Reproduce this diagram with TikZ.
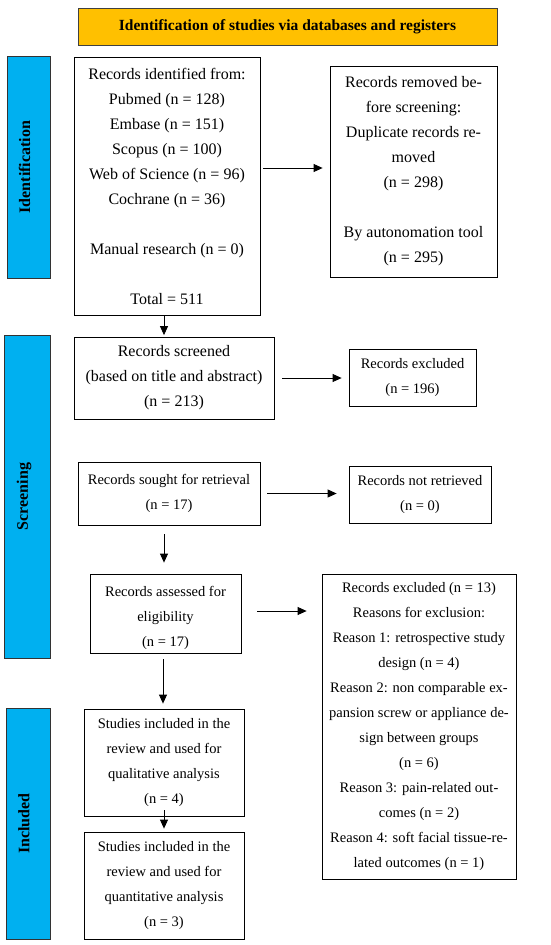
\documentclass[tikz,border=0pt]{standalone}
\usepackage{fontspec}
\setmainfont{Liberation Serif}
\usetikzlibrary{arrows.meta}
\definecolor{headorange}{HTML}{FFC000}
\definecolor{barblue}{HTML}{00B0F0}
\tikzset{
  box/.style={draw, line width=0.8pt, inner sep=0pt, align=center, font=\fontsize{14.5}{25}\selectfont},
  bigbox/.style={box, font=\fontsize{16}{25}\selectfont},
  bar/.style={draw=black!80, fill=barblue, line width=0.9pt, inner sep=0pt},
  sidelab/.style={rotate=90, inner sep=0pt, font=\fontsize{16}{18}\selectfont\bfseries},
  plain/.style={inner sep=0pt, align=center, font=\fontsize{14.5}{25}\selectfont},
  arr/.style={-{Triangle[length=9pt,width=8pt]}, line width=0.8pt}
}
\begin{document}
\begin{tikzpicture}[x=1pt,y=-1pt]
\useasboundingbox (0,0) rectangle (550,945);
\fill[white] (0,0) rectangle (550,945);

% header
\node[draw=black!75, fill=headorange, line width=0.9pt, inner sep=0pt,
      minimum width=419, minimum height=37, font=\fontsize{15.5}{18}\selectfont\bfseries]
  (head) at (287.5,26.5) {Identification of studies via databases and registers};

% side bars
\node[bar, minimum width=43, minimum height=222] (idbar) at (28.5,167) {};
\node[sidelab] (idlab) at ([xshift=-4pt]idbar.center) {Identification};
\node[bar, minimum width=46, minimum height=323] (scbar) at (27,496.5) {};
\node[sidelab] (sclab) at ([xshift=-3pt]scbar.center) {Screening};
\node[bar, minimum width=44, minimum height=231] (inbar) at (28,823.5) {};
\node[sidelab] (inlab) at ([xshift=-4pt]inbar.center) {Included};

% identification
\node[bigbox, minimum width=186, minimum height=258] (idbox) at (167,186)
  {Records identified from:\\Pubmed (n = 128)\\Embase (n = 151)\\Scopus (n = 100)\\Web of Science (n = 96)\\Cochrane (n = 36)\\[25pt]Manual research (n = 0)\\[25pt]Total = 511};
\node[bigbox, minimum width=167, minimum height=211] (removed) at (413.5,171.5)
  {Records removed be-\\fore screening:\\Duplicate records re-\\moved\\(n = 298)\\[25pt]By autonomation tool\\(n = 295)};

% screening
\node[bigbox, minimum width=200, minimum height=82] (screened) at (174,378)
  {Records screened\\(based on title and abstract)\\(n = 213)};
\node[box, minimum width=127, minimum height=57] (excl1) at (412.5,377.5)
  {Records excluded\\(n = 196)};
\node[box, minimum width=182, minimum height=63] (sought) at (169,493.5)
  {Records sought for retrieval\\(n = 17)};
\node[box, minimum width=142, minimum height=57] (notret) at (420,494.5)
  {Records not retrieved\\(n = 0)};
\node[box, minimum width=151, minimum height=79] (assessed) at (165.5,613.5) {};
\begin{scope}
  \clip (90,574) rectangle (241,648.5);
  \node[plain] (assessedtxt) at ([yshift=-4.5pt]assessed.center)
    {Records assessed for\\eligibility\\(n = 17)};
\end{scope}
\node[box, minimum width=194, minimum height=305] (excl13) at (419,726.5)
  {Records excluded (n = 13)\\Reasons for exclusion:\\Reason 1: retrospective study\\design (n = 4)\\Reason 2: non comparable ex-\\pansion screw or appliance de-\\sign between groups\\(n = 6)\\Reason 3: pain-related out-\\comes (n = 2)\\Reason 4: soft facial tissue-re-\\lated outcomes (n = 1)};

% included
\node[box, minimum width=160, minimum height=107] (qual) at (164,762.5)
  {Studies included in the\\review and used for\\qualitative analysis\\(n = 4)};
\node[box, minimum width=160, minimum height=107] (quant) at (164,885.5)
  {Studies included in the\\review and used for\\quantitative analysis\\(n = 3)};

% connectors
\coordinate (r1) at ([xshift=3pt,yshift=3.5pt]idbox.east |- removed.west);
\coordinate (r2) at ([xshift=-7pt,yshift=3.5pt]removed.west);
\draw[arr] (r1) -- (r2);

\coordinate (d1) at ([xshift=-3pt]idbox.south);
\coordinate (d2) at (d1 |- screened.north);
\draw[arr] (d1) -- ([yshift=1.5pt]d2);

\draw[arr] ([xshift=8pt]screened.east) -- ([xshift=-7pt]excl1.west |- screened.east);

\coordinate (n1) at ([xshift=7pt]sought.east);
\coordinate (n2) at ([xshift=-12pt]notret.west |- n1);
\draw[arr] (n1) -- (n2);

\coordinate (s1) at ([xshift=-5pt,yshift=-9pt]sought.south);
\coordinate (s2) at (s1 |- assessed.north);
\draw[arr] (s1) -- ([yshift=11pt]s2);

\coordinate (a1) at ([xshift=16pt,yshift=2.5pt]assessed.east);
\coordinate (a2) at ([xshift=-15pt]excl13.west |- a1);
\draw[arr] (a1) -- (a2);

\coordinate (b1) at ([xshift=-2.5pt,yshift=-6pt]assessed.south);
\coordinate (b2) at (b1 |- qual.north);
\draw[arr] (b1) -- ([yshift=5pt]b2);

\draw[arr] ([yshift=6pt]qual.south) -- ([yshift=3pt]quant.north);
\end{tikzpicture}
\end{document}
